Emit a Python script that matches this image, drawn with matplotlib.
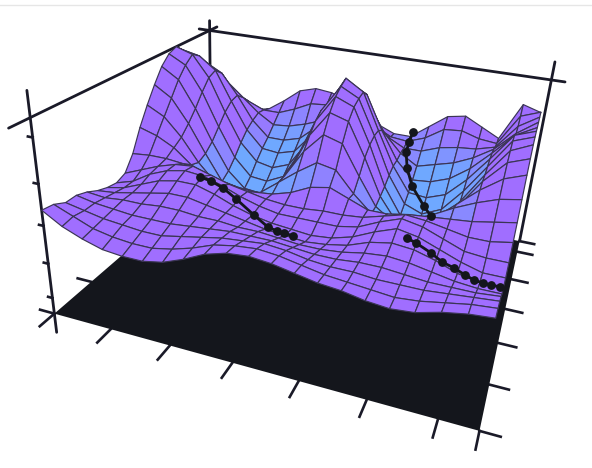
import numpy as np
import matplotlib
matplotlib.use('Agg')
import matplotlib.pyplot as plt
from matplotlib.colors import LinearSegmentedColormap

W, H = 592, 468
# surface heights, rows run front to back, columns left to right
heights = [
    [56, 50, 46, 43, 42, 42, 44, 48, 53, 56, 57, 56, 54, 52, 51, 49, 48, 49, 52, 54, 55],
    [55, 51, 47, 45, 44, 44, 46, 49, 53, 55, 56, 55, 53, 51, 50, 49, 48, 49, 51, 53, 54],
    [52, 50, 48, 47, 46, 46, 48, 50, 52, 53, 54, 53, 51, 50, 50, 49, 49, 49, 50, 51, 52],
    [52, 50, 49, 48, 48, 48, 49, 50, 51, 51, 51, 50, 49, 49, 50, 50, 49, 48, 48, 48, 49],
    [50, 49, 50, 50, 51, 51, 50, 50, 49, 49, 48, 47, 47, 48, 50, 51, 50, 48, 46, 45, 45],
    [47, 48, 50, 52, 54, 54, 52, 50, 48, 46, 45, 44, 45, 47, 51, 53, 52, 49, 45, 43, 43],
    [45, 47, 51, 55, 57, 57, 54, 50, 47, 45, 44, 43, 44, 47, 52, 56, 54, 50, 46, 43, 43],
    [44, 47, 53, 57, 59, 58, 55, 51, 48, 46, 46, 46, 46, 48, 53, 57, 55, 51, 47, 46, 46],
    [46, 50, 54, 57, 58, 55, 52, 50, 48, 47, 47, 48, 48, 49, 52, 55, 54, 52, 50, 50, 52],
    [54, 55, 55, 54, 52, 49, 47, 46, 47, 50, 55, 57, 53, 49, 49, 51, 52, 53, 54, 56, 58],
    [66, 63, 58, 50, 44, 40, 38, 42, 50, 58, 65, 63, 52, 43, 42, 44, 49, 55, 60, 64, 66],
    [76, 71, 61, 48, 38, 32, 30, 36, 50, 66, 77, 74, 58, 43, 36, 36, 43, 53, 63, 71, 75],
    [85, 79, 66, 50, 35, 28, 26, 32, 50, 72, 86, 83, 65, 45, 32, 29, 35, 48, 64, 76, 80],
    [93, 87, 72, 54, 38, 29, 28, 34, 53, 77, 92, 88, 69, 47, 32, 28, 33, 47, 64, 79, 84],
    [98, 93, 79, 60, 43, 33, 32, 37, 55, 80, 95, 90, 71, 50, 35, 31, 36, 49, 65, 81, 85],
    [100, 97, 85, 66, 49, 39, 37, 41, 56, 79, 97, 91, 71, 52, 38, 37, 41, 52, 66, 81, 85],
    [96, 94, 87, 70, 54, 44, 43, 46, 58, 77, 92, 87, 68, 52, 42, 43, 47, 55, 66, 78, 84],
    [88, 88, 83, 71, 57, 48, 48, 51, 60, 73, 83, 78, 63, 53, 47, 50, 53, 58, 65, 76, 84],
    [78, 78, 75, 67, 59, 53, 54, 57, 61, 68, 72, 68, 58, 53, 53, 57, 59, 60, 63, 77, 84],
    [68, 68, 66, 62, 58, 58, 62, 67, 68, 67, 64, 60, 55, 54, 58, 65, 66, 63, 62, 80, 84],
    [62, 58, 54, 54, 56, 63, 71, 74, 73, 69, 64, 58, 54, 54, 62, 70, 72, 67, 62, 84, 81],
]
path1_x = [.228, .262, .301, .346, .409, .451, .474, .489, .513]
path1_y = [.375, .364, .348, .321, .273, .255, .254, .262, .257]
path1_z = [.55, .55, .54, .52, .50, .47, .46, .45, .45]
path2_x = [.766, .790, .830, .860, .888, .913, .933, .951, .967, .984]
path2_y = [.304, .288, .243, .200, .174, .153, .139, .144, .153, .163]
path2_z = [.52, .52, .53, .54, .55, .55, .55, .54, .53, .52]
path3_x = [.660, .658, .658, .673, .700, .748, .775]
path3_y = [.925, .889, .855, .808, .754, .676, .630]
path3_z = [.62, .58, .54, .48, .42, .38, .37]
x_ticks = [0, .153, .306, .46, .615, .766, .916, 1]
y_ticks = [0, .18, .37, .55, .73, .92, 1]
z_ticks = [.09, .28, .48, .69, .91]

dark = '#14161c'
line = '#1a1a28'
fig = plt.figure(figsize=(W/100, H/100), dpi=100)
ax = fig.add_axes([0.06915, 0.00356, 0.90879, 1.14959], projection='3d', computed_zorder=False)
ax.set_xlim(0, 1)
ax.set_ylim(0, 1)
ax.set_zlim(0, 1)
ax.view_init(elev=26.0889, azim=-72.3271, roll=-3.3516)
ax.set_proj_type('persp', focal_length=0.2582)
ax.set_box_aspect((1, 0.825, 0.4922))
ax.set_axis_off()

Z = np.array(heights) / 100
X, Y = np.meshgrid(np.linspace(0, .99, Z.shape[1]), np.linspace(0, 1, Z.shape[0]))
cm = LinearSegmentedColormap.from_list('s', [(0, '#6fa8ff'), (.45, '#6fa8ff'), (.6, '#a06eff'), (1, '#a06eff')])
# the front and the two sides of the surface stay purple whatever their height
tint = np.where((Y < .45) | (X > .85) | (X < .1), 1, Z)

# axes frame
frame = [
    ([0, 0], [0, 0], [-.11, 1.12]),
    ([0, 0], [-.08, 1.06], [1, 1]),
    ([-.035, 1.035], [1, 1], [1, 1]),
    ([0, 0], [1, 1], [0, 1.06]),
    ([1, 1], [1, 1], [0, 1.1]),
]
for fx, fy, fz in frame:
    ax.plot(fx, fy, fz, color=line, lw=2, zorder=1, solid_capstyle='round', clip_on=False)
for t in x_ticks:
    ax.plot([t, t], [0, -.065], [0, 0], color=line, lw=1.9, zorder=1, clip_on=False)
for t in y_ticks:
    ax.plot([1, 1.042], [t, t], [0, 0], color=line, lw=1.9, zorder=1, clip_on=False)
    ax.plot([0, -.04], [t, t], [0, 0], color=line, lw=1.9, zorder=1, clip_on=False)
for t in z_ticks:
    ax.plot([0, -.012], [0, 0], [t, t], color=line, lw=1.9, zorder=1, clip_on=False)

ax.plot_surface(np.array([[0, 1], [0, 1]]), np.array([[0, 0], [1, 1]]), np.zeros((2, 2)),
                color=dark, shade=False, zorder=1.5, linewidth=0, clip_on=False)
ax.plot_surface(X, Y, Z, rstride=1, cstride=1, facecolors=cm(tint), edgecolor='#3b3555',
                linewidth=0.85, shade=False, zorder=2, clip_on=False)

for px, py, pz in [(path1_x, path1_y, path1_z), (path2_x, path2_y, path2_z), (path3_x, path3_y, path3_z)]:
    ax.plot(px, py, pz, color=dark, lw=2, zorder=3)
    ax.scatter(px, py, pz, color=dark, s=28, depthshade=False, zorder=4)

fig.add_artist(plt.Line2D([0, 1], [1 - 5/H, 1 - 5/H], color='#e6e6e6', lw=1))
fig.savefig('out.png', dpi=100)
